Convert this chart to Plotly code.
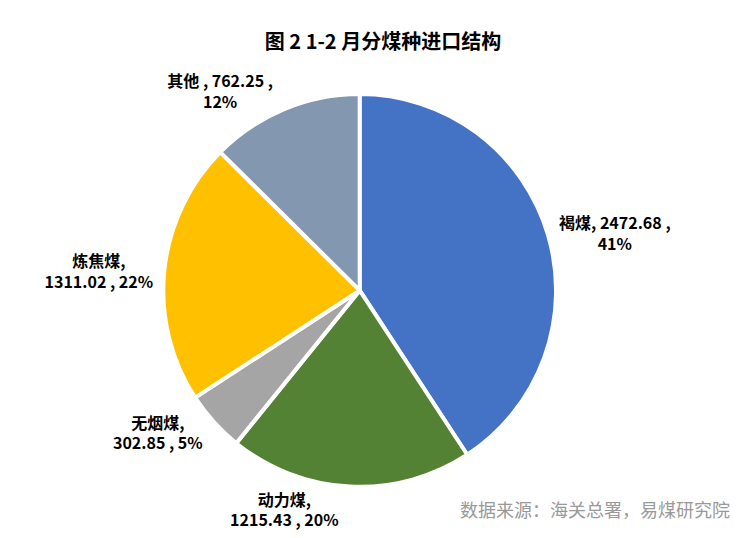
import plotly.graph_objects as go

labels = ["褐煤", "动力煤", "无烟煤", "炼焦煤", "其他"]
values = [2472.68, 1215.43, 302.85, 1311.02, 762.25]
pcts = ["41%", "20%", "5%", "22%", "12%"]
colors = ["#4472C4", "#548235", "#A5A5A5", "#FFC000", "#8497B0"]

texts = [
    f"<b>{labels[0]}, {values[0]:.2f} ,<br>{pcts[0]}</b>",
    f"<b>{labels[1]},<br>{values[1]:.2f} , {pcts[1]}</b>",
    f"<b>{labels[2]},<br>{values[2]:.2f} , {pcts[2]}</b>",
    f"<b>{labels[3]},<br>{values[3]:.2f} , {pcts[3]}</b>",
    f"<b>{labels[4]} , {values[4]:.2f} ,<br>{pcts[4]}</b>",
]

fig = go.Figure(go.Pie(
    labels=labels, values=values, text=texts,
    textinfo="text", textposition="outside",
    sort=False, direction="clockwise", rotation=0,
    marker=dict(colors=colors, line=dict(color="white", width=4)),
    textfont=dict(size=16, color="black", family="Noto Sans CJK SC"),
    domain=dict(x=[0.1, 0.835], y=[0.11, 0.84]),
    showlegend=False,
))

fig.update_layout(
    width=750, height=538,
    margin=dict(l=0, r=90, t=0, b=0),
    paper_bgcolor="white",
    font=dict(family="Noto Sans CJK SC"),
    title=dict(text="<b>图 2 1-2 月分煤种进口结构</b>", x=0.5, y=0.95,
               xanchor="center", font=dict(size=20, color="black")),
    annotations=[dict(text="数据来源：海关总署，易煤研究院", xref="paper", yref="paper",
                      x=1.11, y=0.04, xanchor="right", showarrow=False,
                      font=dict(size=18, color="#999999"))],
)

fig.write_html("out.html")
